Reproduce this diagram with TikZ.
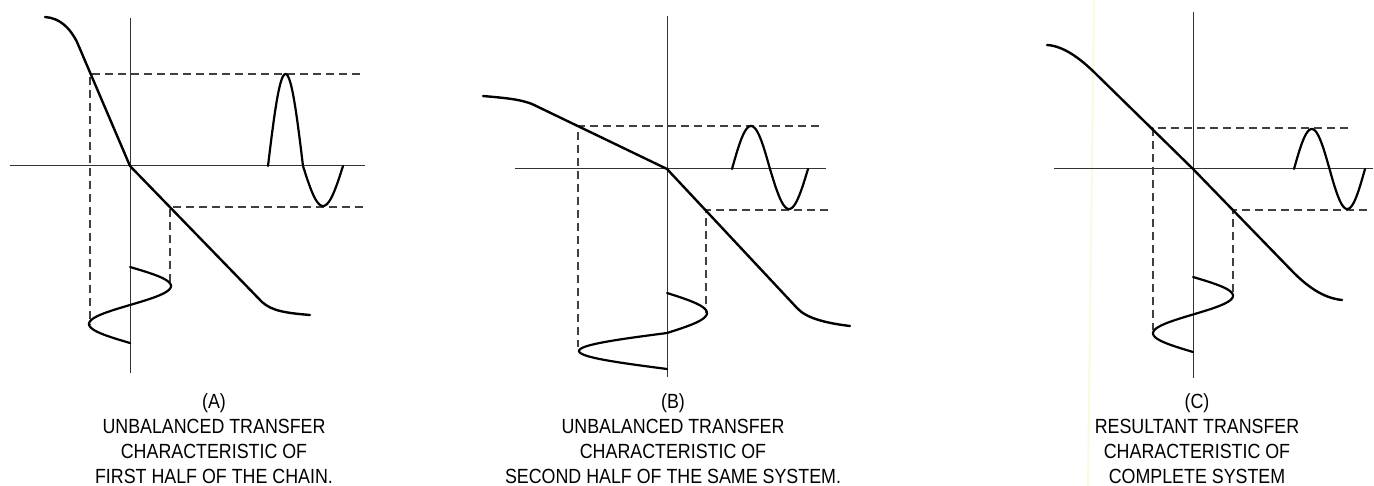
\documentclass[tikz,border=0pt]{standalone}
\usepackage{fontspec}
\newfontfamily\capfont{Liberation Sans}[FakeStretch=0.87]
\begin{document}
\begin{tikzpicture}[x=1pt,y=-1pt,
  axis/.style={line width=1pt, draw=black!80},
  guide/.style={line width=1.1pt, draw=black!75, dash pattern=on 8pt off 5pt},
  curve/.style={line width=2.4pt, line cap=round, line join=round},
  wave/.style={line width=2.2pt, line cap=round, line join=round},
  caption/.style={font=\capfont\fontsize{20.5}{25}\selectfont, align=center, anchor=north, inner sep=0pt}]
\useasboundingbox (0,0) rectangle (1374,486);
% faint scan streak
\draw[line width=2pt, draw={rgb,255:red,250;green,250;blue,222}] (1094,0) -- (1088,486);

% ---------- Panel A ----------
\coordinate (OA) at (130,166);
\draw[axis] (130,18) -- (130,373);
\draw[axis] (10,166) -- (365,166);
\draw[guide] (360,74) -- (90,74) -- (90,325);
\draw[guide] (363,207) -- (170,207) -- (170,283);
\draw[curve] (45,17) .. controls (60,18) and (70,28) .. (77,42) -- (OA) -- (262,302) .. controls (272,311) and (286,313) .. (310,315);
\draw[wave] plot[domain=0:180,samples=40] ({268+\x/180*35},{166-92*sin(\x)})
  -- plot[domain=0:180,samples=40] ({303+\x/180*40},{166+40*sin(\x)});
\draw[wave] plot[domain=0:360,samples=70] ({130+41*sin(\x)},{267+\x/360*76});

% ---------- Panel B ----------
\coordinate (OB) at (667,169);
\draw[axis] (667,16) -- (667,377);
\draw[axis] (515,169) -- (826,169);
\draw[guide] (819,126) -- (578,126) -- (578,347);
\draw[guide] (828,210) -- (706,210) -- (706,313);
\draw[curve] (483,96) .. controls (505,98) and (519,99) .. (532,104) -- (OB) -- (797,308) .. controls (806,318) and (825,323) .. (850,326);
\draw[wave] plot[domain=0:180,samples=40] ({732+\x/180*38},{169-43*sin(\x)})
  -- plot[domain=0:180,samples=40] ({770+\x/180*38},{169+40*sin(\x)});
\draw[wave] plot[domain=0:180,samples=40] ({667+40*sin(\x)},{293+\x/180*40})
  -- plot[domain=0:180,samples=50] ({667-88*sin(\x)},{333+\x/180*36});

% ---------- Panel C ----------
\coordinate (OC) at (1193,169);
\draw[axis] (1193,12) -- (1193,378);
\draw[axis] (1054,169) -- (1373,169);
\draw[guide] (1348,128) -- (1153,128) -- (1153,330);
\draw[guide] (1367,210) -- (1233,210) -- (1233,297);
\draw[curve] (1047,45) .. controls (1065,46) and (1083,61) .. (1097,75) -- (OC) -- (1293,272) .. controls (1306,285) and (1322,298) .. (1342,300);
\draw[wave] plot[domain=0:360,samples=70] ({1294+\x/360*71},{169-40*sin(\x)});
\draw[wave] plot[domain=0:360,samples=70] ({1193+40*sin(\x)},{277+\x/360*75});

% ---------- Captions ----------
\node[caption] (capA) at (214,393) {(A)\\UNBALANCED TRANSFER\\CHARACTERISTIC OF\\FIRST HALF OF THE CHAIN.};
\node[caption] (capB) at (673,393) {(B)\\UNBALANCED TRANSFER\\CHARACTERISTIC OF\\SECOND HALF OF THE SAME SYSTEM.};
\node[caption] (capC) at (1197,393) {(C)\\RESULTANT TRANSFER\\CHARACTERISTIC OF\\COMPLETE SYSTEM};
\end{tikzpicture}
\end{document}
